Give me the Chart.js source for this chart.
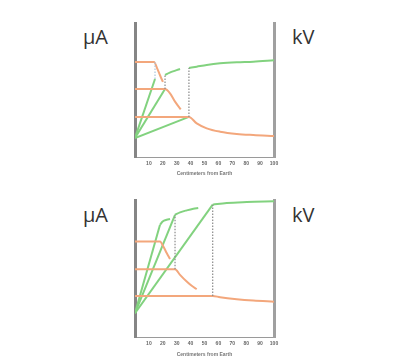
<!DOCTYPE html>
<html>
<head>
<meta charset="utf-8">
<script src="https://cdn.jsdelivr.net/npm/chart.js@4"></script>
<style>
  body { margin: 0; width: 410px; height: 363px; background: #fff; position: relative; overflow: hidden; font-family: "Open Sans", "DejaVu Sans", sans-serif; }
  .unit { position: absolute; font-size: 20px; color: #333; line-height: 20px; }
  canvas { position: absolute; }
</style>
</head>
<body>
<div class="unit" style="left:83px; top:27px;">μA</div>
<div class="unit" style="left:292px; top:27px;">kV</div>
<div class="unit" style="left:83px; top:205px;">μA</div>
<div class="unit" style="left:292px; top:205px;">kV</div>
<canvas id="topChart" style="left:120px; top:10px;"></canvas>
<canvas id="bottomChart" style="left:120px; top:187px;"></canvas>
<script>
// x axis: distance, tick labels 10..100
const xTickValues = [10, 20, 30, 40, 50, 60, 70, 80, 90, 100];
const xTitle = "Centimeters from Earth";

// top panel - current (orange), [x, y]
const topCurrentA = [[0, 70.9], [13.7, 70.9], [16, 66], [18, 61], [20.1, 56]];
const topCurrentB = [[0, 50.7], [21.6, 50.7], [25.2, 47.5], [28.8, 41.3], [32.9, 35.6]];
const topCurrentC = [[0, 29.9], [38.8, 29.9], [44.4, 25.1], [51.6, 21.4], [61.2, 18.9], [73.2, 17.2], [85.1, 16.4], [100, 15.7]];
// top panel - voltage (green): straight rise, then slow curve
const topVoltA = [[0, 14.2], [14.4, 58.2]];
const topVoltB = [[0, 14.2], [21.6, 50.7]];
const topVoltBKnee = [[21.6, 61.2], [25, 63], [29, 64.5], [32.4, 65.7]];
const topVoltC = [[0, 14.2], [38.8, 29.9]];
const topVoltCKnee = [[38.8, 66.4], [44.4, 67.4], [51.6, 68.7], [61.2, 69.9], [73.2, 70.7], [85.1, 71.1], [100, 72.2]];
// top panel - dotted links
const topLinkA = [[14.4, 58.2], [14.4, 70.9]];
const topLinkB = [[21.6, 50.7], [21.6, 61.2]];
const topLinkC = [[38.8, 29.9], [38.8, 66.4]];

// bottom panel - current
const botCurrentA = [[0, 71.1], [18, 71.1], [20.4, 67.4], [22.8, 62.5], [25.2, 58]];
const botCurrentB = [[0, 50.5], [28.8, 50.5], [32.4, 46.3], [37.2, 41.3], [40.8, 38.1], [44.4, 35.6]];
const botCurrentC = [[0, 30.6], [55.9, 30.6], [61.2, 29.6], [73.2, 28.1], [85.1, 27.1], [100, 26.3]];
// bottom panel - voltage
const botVoltA = [[0, 17.7], [18, 83.6]];
const botVoltAKnee = [[18, 83.6], [19.9, 86], [22.8, 87.3], [25.2, 87.8]];
const botVoltB = [[0, 17.7], [28.8, 91]];
const botVoltBKnee = [[28.8, 91], [32.4, 92.8], [37.2, 94.3], [42, 95.5], [45.5, 96]];
const botVoltC = [[0, 17.7], [55.9, 98.5]];
const botVoltCKnee = [[55.9, 98.5], [66, 99.8], [80.4, 100.5], [100, 101]];
// bottom panel - dotted links
const botLinkB = [[28.8, 50.5], [28.8, 91]];
const botLinkC = [[55.9, 30.6], [55.9, 98.5]];

const ORANGE = "#f3a77c";
const GREEN = "#82d27f";
const DOT = "#8a8a8a";
const DOT_BLUE = "#a9c6de";

function pts(arr) {
  return arr.map(p => ({ x: p[0], y: p[1] }));
}

function line(arr, color, opts = {}) {
  return Object.assign({
    data: pts(arr),
    borderColor: color,
    borderWidth: 2,
    pointRadius: 0,
    fill: false,
    tension: 0,
  }, opts);
}

// smooth curve for the decay / slow-rise parts
function curve(arr, color) {
  return line(arr, color, { cubicInterpolationMode: "monotone" });
}

function dotted(arr, color) {
  return line(arr, color, { borderWidth: 1.2, borderDash: [1.5, 1.5] });
}

function makePanel(id, height, yMax, axisHeight, titleGap, datasets) {
  const canvas = document.getElementById(id);
  canvas.width = 170;
  canvas.height = height;
  canvas.style.width = "170px";
  canvas.style.height = height + "px";
  return new Chart(canvas, {
    type: "line",
    data: { datasets: datasets },
    options: {
      responsive: false,
      animation: false,
      events: [],
      layout: { padding: { left: 15, right: 16, top: 13, bottom: 0 } },
      plugins: { legend: { display: false }, tooltip: { enabled: false } },
      scales: {
        x: {
          type: "linear",
          min: 0,
          max: 100,
          afterBuildTicks: (s) => { s.ticks = xTickValues.map(v => ({ value: v })); },
          afterFit: (s) => { s.height = axisHeight; },
          grid: { display: false, drawTicks: false, tickLength: 0 },
          border: { display: true, color: "#9a9a9a", width: 1 },
          ticks: { color: "#666", font: { size: 5, weight: "bold" }, padding: 4, maxRotation: 0, autoSkip: false },
          title: { display: true, text: xTitle, color: "#777", font: { size: 5, weight: "bold" }, padding: { top: 2, bottom: titleGap } },
        },
        y: {
          min: 0,
          max: yMax,
          afterFit: (s) => { s.width = 0; },
          grid: { display: false, drawTicks: false },
          ticks: { display: false },
          border: { display: true, color: "#858585", width: 3 },
        },
        y2: {
          position: "right",
          min: 0,
          max: yMax,
          afterFit: (s) => { s.width = 0; },
          grid: { display: false, drawTicks: false },
          ticks: { display: false },
          border: { display: true, color: "#a0a0a0", width: 3 },
        },
      },
    },
  });
}

makePanel("topChart", 175, 100, 28, 8, [
  dotted(topLinkA, DOT_BLUE),
  dotted(topLinkB, DOT),
  dotted(topLinkC, DOT),
  curve(topCurrentA, ORANGE),
  curve(topCurrentB, ORANGE),
  curve(topCurrentC, ORANGE),
  line(topVoltA, GREEN),
  line(topVoltB, GREEN),
  curve(topVoltBKnee, GREEN),
  line(topVoltC, GREEN),
  curve(topVoltCKnee, GREEN),
]);

makePanel("bottomChart", 175, 102, 25, 4, [
  dotted(botLinkB, DOT),
  dotted(botLinkC, DOT),
  curve(botCurrentA, ORANGE),
  curve(botCurrentB, ORANGE),
  curve(botCurrentC, ORANGE),
  line(botVoltA, GREEN),
  curve(botVoltAKnee, GREEN),
  line(botVoltB, GREEN),
  curve(botVoltBKnee, GREEN),
  line(botVoltC, GREEN),
  curve(botVoltCKnee, GREEN),
]);
</script>
</body>
</html>
